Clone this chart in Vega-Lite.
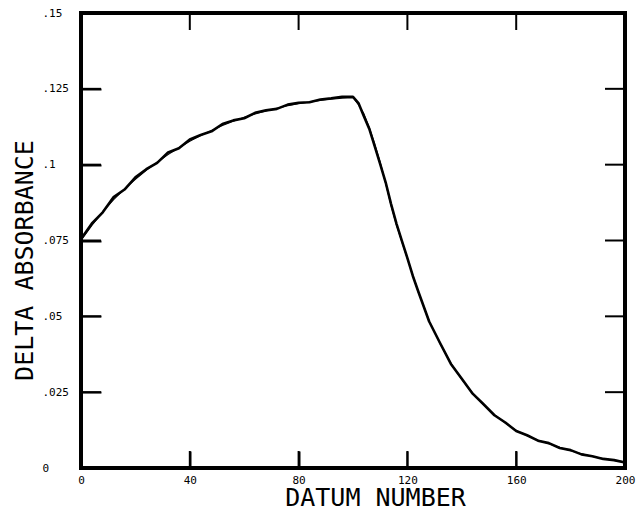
{
  "$schema": "https://vega.github.io/schema/vega-lite/v6.json",
  "width": 544,
  "height": 455,
  "autosize": {"type": "none"},
  "padding": {"left": 81, "top": 13, "right": 15, "bottom": 41},
  "background": "white",
  "config": {
    "view": {"stroke": "black", "strokeWidth": 4},
    "axis": {
      "grid": true,
      "gridColor": "black",
      "gridOpacity": 1,
      "gridWidth": 2,
      "domain": false,
      "ticks": true,
      "tickSize": 0,
      "labelFlush": false,
      "labelFont": "DejaVu Sans Mono",
      "labelFontSize": 11,
      "labelColor": "black",
      "titleFont": "DejaVu Sans Mono",
      "titleFontSize": 25,
      "titleFontWeight": "normal",
      "titleColor": "black"
    }
  },
  "datasets": {
    "observed": [
      {"x": 0, "y": 0.0755}, {"x": 4, "y": 0.0806}, {"x": 8, "y": 0.0843}, {"x": 12, "y": 0.0893},
      {"x": 16, "y": 0.0918}, {"x": 20, "y": 0.0958}, {"x": 24, "y": 0.0985}, {"x": 28, "y": 0.1006},
      {"x": 32, "y": 0.1040}, {"x": 36, "y": 0.1054}, {"x": 40, "y": 0.1083}, {"x": 44, "y": 0.1098},
      {"x": 48, "y": 0.1110}, {"x": 52, "y": 0.1134}, {"x": 56, "y": 0.1146}, {"x": 60, "y": 0.1153},
      {"x": 64, "y": 0.1171}, {"x": 68, "y": 0.1179}, {"x": 72, "y": 0.1184}, {"x": 76, "y": 0.1198},
      {"x": 80, "y": 0.1204}, {"x": 84, "y": 0.1206}, {"x": 88, "y": 0.1215}, {"x": 92, "y": 0.1219},
      {"x": 96, "y": 0.1224}, {"x": 100, "y": 0.1224}, {"x": 102, "y": 0.1203}, {"x": 104, "y": 0.1160},
      {"x": 106, "y": 0.1118}, {"x": 108, "y": 0.1060}, {"x": 110, "y": 0.1002}, {"x": 112, "y": 0.0942},
      {"x": 114, "y": 0.0870}, {"x": 116, "y": 0.0805}, {"x": 118, "y": 0.0748}, {"x": 120, "y": 0.0692},
      {"x": 122, "y": 0.0633}, {"x": 124, "y": 0.0582}, {"x": 128, "y": 0.0483}, {"x": 132, "y": 0.0412},
      {"x": 136, "y": 0.0343}, {"x": 140, "y": 0.0294}, {"x": 144, "y": 0.0245}, {"x": 148, "y": 0.0210},
      {"x": 152, "y": 0.0174}, {"x": 156, "y": 0.0150}, {"x": 160, "y": 0.0122}, {"x": 164, "y": 0.0108},
      {"x": 168, "y": 0.0090}, {"x": 172, "y": 0.0082}, {"x": 176, "y": 0.0066}, {"x": 180, "y": 0.0059},
      {"x": 184, "y": 0.0045}, {"x": 188, "y": 0.0039}, {"x": 192, "y": 0.0030}, {"x": 196, "y": 0.0026},
      {"x": 200, "y": 0.0018}
    ],
    "fit": [
      {"x": 0, "y": 0.0750}, {"x": 4, "y": 0.0800}, {"x": 8, "y": 0.0845}, {"x": 12, "y": 0.0885},
      {"x": 16, "y": 0.0920}, {"x": 20, "y": 0.0952}, {"x": 24, "y": 0.0981}, {"x": 28, "y": 0.1008},
      {"x": 32, "y": 0.1033}, {"x": 36, "y": 0.1056}, {"x": 40, "y": 0.1077}, {"x": 44, "y": 0.1096},
      {"x": 48, "y": 0.1113}, {"x": 52, "y": 0.1129}, {"x": 56, "y": 0.1143}, {"x": 60, "y": 0.1156},
      {"x": 64, "y": 0.1167}, {"x": 68, "y": 0.1177}, {"x": 72, "y": 0.1186}, {"x": 76, "y": 0.1194},
      {"x": 80, "y": 0.1201}, {"x": 84, "y": 0.1207}, {"x": 88, "y": 0.1212}, {"x": 92, "y": 0.1216},
      {"x": 96, "y": 0.1219}, {"x": 100, "y": 0.1221}, {"x": 102, "y": 0.1198}, {"x": 104, "y": 0.1168},
      {"x": 106, "y": 0.1122}, {"x": 108, "y": 0.1068}, {"x": 110, "y": 0.1008}, {"x": 112, "y": 0.0938},
      {"x": 114, "y": 0.0865}, {"x": 116, "y": 0.0800}, {"x": 118, "y": 0.0745}, {"x": 120, "y": 0.0690},
      {"x": 122, "y": 0.0635}, {"x": 124, "y": 0.0580}, {"x": 128, "y": 0.0485}, {"x": 132, "y": 0.0410},
      {"x": 136, "y": 0.0345}, {"x": 140, "y": 0.0292}, {"x": 144, "y": 0.0247}, {"x": 148, "y": 0.0208},
      {"x": 152, "y": 0.0176}, {"x": 156, "y": 0.0148}, {"x": 160, "y": 0.0124}, {"x": 164, "y": 0.0106},
      {"x": 168, "y": 0.0092}, {"x": 172, "y": 0.0080}, {"x": 176, "y": 0.0068}, {"x": 180, "y": 0.0057},
      {"x": 184, "y": 0.0047}, {"x": 188, "y": 0.0038}, {"x": 192, "y": 0.0031}, {"x": 196, "y": 0.0025},
      {"x": 200, "y": 0.0020}
    ],
    "yticks": [{"v": 0.025}, {"v": 0.05}, {"v": 0.075}, {"v": 0.1}, {"v": 0.125}],
    "xticks": [{"v": 40}, {"v": 80}, {"v": 120}, {"v": 160}]
  },
  "resolve": {"axis": {"x": "independent", "y": "independent"}},
  "layer": [
    {
      "data": {"name": "observed"},
      "mark": {"type": "line", "color": "black", "strokeWidth": 2.6, "strokeJoin": "round"},
      "encoding": {
        "x": {
          "field": "x", "type": "quantitative",
          "scale": {"domain": [0, 200], "nice": false, "zero": false},
          "axis": {
            "orient": "bottom", "title": "DATUM NUMBER", "values": [0, 40, 80, 120, 160, 200],
            "gridDash": [0, 438, 17, 2000], "labelPadding": 6, "labelBaseline": "top",
            "titleX": 294, "titleY": 37, "titleBaseline": "alphabetic", "titleAlign": "center"
          }
        },
        "y": {
          "field": "y", "type": "quantitative",
          "scale": {"domain": [0, 0.15], "nice": false},
          "axis": {
            "orient": "left", "title": "DELTA ABSORBANCE",
            "values": [0, 0.025, 0.05, 0.075, 0.1, 0.125, 0.15],
            "labelExpr": "datum.value == 0 ? '0' : replace(format(datum.value, '.3~f'), /^0\\./, '.')",
            "gridDash": [20, 2000], "labelPadding": 39, "labelAlign": "left", "labelBaseline": "middle",
            "titleX": -57, "titleY": 247, "titleBaseline": "middle", "titleAlign": "center", "titleAngle": -90
          }
        }
      }
    },
    {
      "data": {"name": "fit"},
      "mark": {"type": "line", "color": "black", "strokeWidth": 1.1, "strokeJoin": "round"},
      "encoding": {
        "x": {
          "field": "x", "type": "quantitative",
          "axis": {"orient": "top", "title": null, "labels": false, "gridDash": [17, 2000], "values": [40, 80, 120, 160]}
        },
        "y": {
          "field": "y", "type": "quantitative",
          "axis": {"orient": "right", "title": null, "labels": false, "gridDash": [0, 524, 20, 2000], "values": [0.025, 0.05, 0.075, 0.1, 0.125]}
        }
      }
    },
    {
      "data": {"name": "yticks"},
      "mark": {"type": "rule", "color": "black", "strokeWidth": 2},
      "encoding": {
        "y": {"field": "v", "type": "quantitative", "axis": null},
        "x": {"datum": 192.65, "type": "quantitative", "axis": null},
        "x2": {"datum": 200}
      }
    },
    {
      "data": {"name": "yticks"},
      "mark": {"type": "rule", "color": "black", "strokeWidth": 2},
      "encoding": {
        "y": {"field": "v", "type": "quantitative", "axis": null},
        "x": {"datum": 0, "type": "quantitative", "axis": null},
        "x2": {"datum": 7.35}
      }
    },
    {
      "data": {"name": "xticks"},
      "mark": {"type": "rule", "color": "black", "strokeWidth": 2},
      "encoding": {
        "x": {"field": "v", "type": "quantitative", "axis": null},
        "y": {"datum": 0, "type": "quantitative", "axis": null},
        "y2": {"datum": 0.0056}
      }
    },
    {
      "data": {"name": "xticks"},
      "mark": {"type": "rule", "color": "black", "strokeWidth": 2},
      "encoding": {
        "x": {"field": "v", "type": "quantitative", "axis": null},
        "y": {"datum": 0.1444, "type": "quantitative", "axis": null},
        "y2": {"datum": 0.15}
      }
    }
  ]
}
